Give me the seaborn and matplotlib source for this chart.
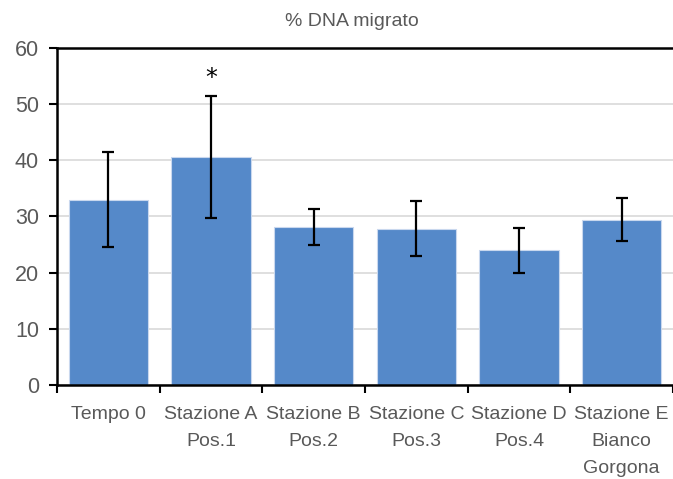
import matplotlib
matplotlib.use("Agg")
import matplotlib.pyplot as plt
from matplotlib.ticker import FixedLocator
import seaborn as sns
import pandas as pd

# Comet assay: mean % DNA migrated per sampling station, with error bars
categories = ["Tempo 0", "Stazione A\nPos.1", "Stazione B\nPos.2",
              "Stazione C\nPos.3", "Stazione D\nPos.4", "Stazione E\nBianco\nGorgona"]
dna_migrato = [33.0, 40.6, 28.1, 27.8, 24.0, 29.4]
errore = [8.4, 10.8, 3.2, 4.9, 4.0, 3.8]
significativo = ["", "*", "", "", "", ""]
y_ticks = [0, 10, 20, 30, 40, 50, 60]

df = pd.DataFrame({"stazione": categories, "dna": dna_migrato, "err": errore})

sns.set_style("white")
plt.rcParams["font.family"] = ["Liberation Sans", "DejaVu Sans"]

fig = plt.figure(figsize=(6.73, 4.79), dpi=100)
ax = fig.add_axes([57 / 673, 1 - 385.3 / 479, 1 - 57 / 673, (385.3 - 47.5) / 479])

bar_color = "#5589C9"
sns.barplot(data=df, x="stazione", y="dna", color=bar_color, width=0.77,
            edgecolor="#C9D8EE", linewidth=0.8, saturation=1, ax=ax, zorder=2)

xpos = list(range(len(categories)))
ax.errorbar(xpos, dna_migrato, yerr=errore, fmt="none", ecolor="black",
            elinewidth=1.6, capsize=4.2, capthick=1.6, zorder=3)

for x, val, e, s in zip(xpos, dna_migrato, errore, significativo):
    if s:
        ax.text(x, val + e + 3.2, s, ha="center", va="center", fontsize=17,
                color="black", family="DejaVu Sans")

ax.set_ylim(0, 60)
ax.set_xlim(-0.5, len(categories) - 0.5)
ax.set_yticks(y_ticks)
ax.yaxis.grid(True, color="#D9D9D9", linewidth=1.2, zorder=0)
ax.set_axisbelow(True)

ax.set_xlabel("")
ax.set_ylabel("")
text_color = "#595959"
fig.text(352 / 673, 1 - 21 / 479, "% DNA migrato", fontsize=14, color=text_color,
         ha="center", va="center")

ax.tick_params(axis="y", which="major", direction="out", length=6, width=1.5,
               color="black", labelsize=15.5, labelcolor=text_color, pad=7, left=True)
ax.tick_params(axis="x", which="major", length=0, labelsize=14,
               labelcolor=text_color, pad=15)
ax.xaxis.set_minor_locator(FixedLocator([i - 0.5 for i in range(len(categories) + 1)]))
ax.tick_params(axis="x", which="minor", direction="out", length=6, width=1.5,
               color="black", bottom=True)
for lbl in ax.get_xticklabels():
    lbl.set_linespacing(1.75)
    lbl.set_ha("center")

for side in ["left", "bottom", "top"]:
    ax.spines[side].set_visible(True)
    ax.spines[side].set_color("black")
    ax.spines[side].set_linewidth(1.8)
ax.spines["right"].set_visible(False)

fig.savefig("out.png", dpi=100)
